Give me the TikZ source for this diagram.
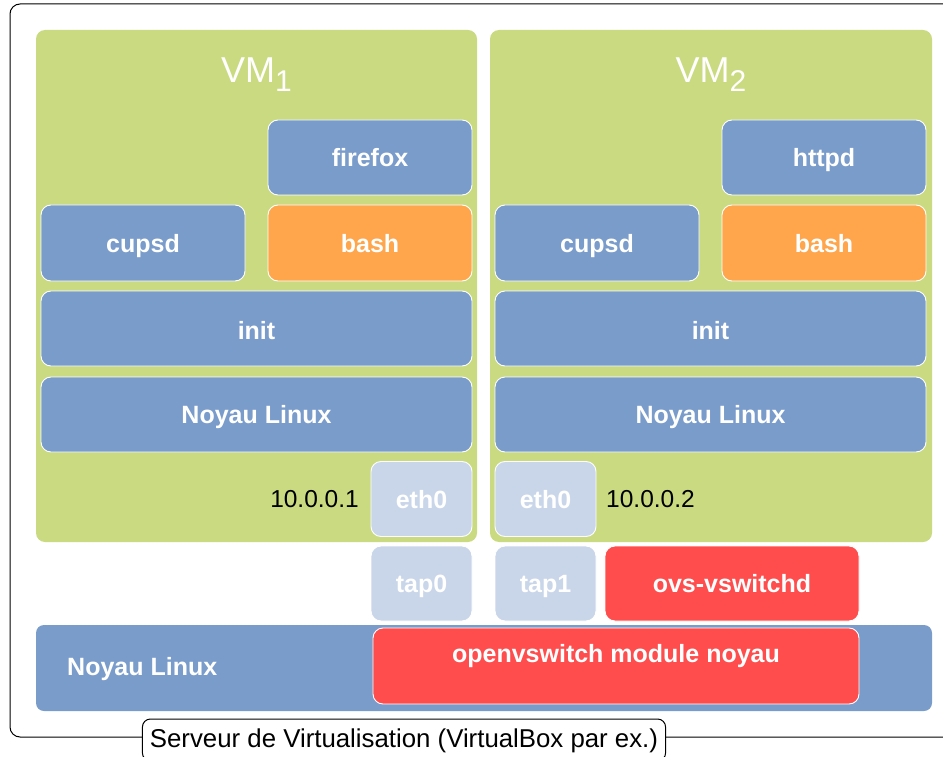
\documentclass[tikz,border=0pt]{standalone}
\usepackage{fontspec}
\setmainfont{Liberation Sans}
\definecolor{vmgreen}{RGB}{202,218,128}
\definecolor{procblue}{RGB}{122,156,203}
\definecolor{shellorange}{RGB}{255,166,77}
\definecolor{nicblue}{RGB}{201,214,233}
\definecolor{ovsred}{RGB}{255,77,77}
\begin{document}
\begin{tikzpicture}[x=1pt,y=-1pt,
  box/.style={rectangle, rounded corners=10pt, draw=white, line width=0.9pt,
    text=white, inner sep=0pt, text height=20pt, text depth=2pt,
    font=\fontsize{25}{25}\selectfont\bfseries},
  proc/.style={box, fill=procblue},
  shell/.style={box, fill=shellorange},
  nic/.style={box, fill=nicblue, minimum width=101pt, minimum height=75pt},
  ovs/.style={box, fill=ovsred},
  vm/.style={rectangle, rounded corners=9pt, fill=vmgreen, inner sep=0pt},
  vmtitle/.style={anchor=base, text=white, inner sep=0pt,
    font=\fontsize{36}{36}\selectfont},
  ip/.style={inner sep=0pt, font=\fontsize{24.5}{24.5}\selectfont},
]
\useasboundingbox (0,0) rectangle (943,757);

% host frame
\draw[line width=1pt, rounded corners=10pt] (10,4) rectangle (960,737);

% virtual machines
\node[vm, minimum width=441pt, minimum height=512pt] (vm1) at (256.5,286) {};
\node[vm, minimum width=442pt, minimum height=512pt] (vm2) at (711,286) {};
\node[vmtitle] (t1) at (256.5,83) {VM\raisebox{-9pt}{\fontsize{30}{30}\selectfont 1}};
\node[vmtitle] (t2) at (711,83) {VM\raisebox{-9pt}{\fontsize{30}{30}\selectfont 2}};

% VM 1 processes
\node[proc, minimum width=204pt, minimum height=75pt] (firefox) at (370,157.5) {firefox};
\node[shell, minimum width=204pt, minimum height=76pt] (bash1) at (370,243) {bash};
\node[proc, minimum width=204pt, minimum height=76pt] (cupsd1) at (143,243) {cupsd};
\node[proc, text height=23pt, minimum width=431pt, minimum height=75pt] (init1) at (256.5,328.5) {init};
\node[proc, minimum width=431pt, minimum height=75pt] (kern1) at (256.5,414.5) {Noyau Linux};
\node[nic] (eth1) at (421.5,499) {eth0};
\node[ip, anchor=base east] (ip1) at (359,507) {10.0.0.1};

% VM 2 processes
\node[proc, minimum width=204pt, minimum height=75pt] (httpd) at (824,157.5) {httpd};
\node[shell, minimum width=204pt, minimum height=76pt] (bash2) at (824,243) {bash};
\node[proc, minimum width=204pt, minimum height=76pt] (cupsd2) at (597,243) {cupsd};
\node[proc, text height=23pt, minimum width=431pt, minimum height=75pt] (init2) at (710.5,328.5) {init};
\node[proc, minimum width=431pt, minimum height=75pt] (kern2) at (710.5,414.5) {Noyau Linux};
\node[nic] (eth2) at (545.5,499) {eth0};
\node[ip, anchor=base west] (ip2) at (606,507) {10.0.0.2};

% host side
\node[nic] (tap0) at (421.5,583.5) {tap0};
\node[nic] (tap1) at (545.5,583.5) {tap1};
\node[ovs, minimum width=254pt, minimum height=75pt] (vswitchd) at (732,583.5) {ovs-vswitchd};
\node[proc, draw=none, rounded corners=8pt, minimum width=896pt, minimum height=86pt] (hostkern) at (484,668) {};
\node[anchor=base west, inner sep=0pt, text=white,
  font=\fontsize{25}{25}\selectfont\bfseries] (hostlbl) at (67,675) {Noyau Linux};
\node[ovs, text height=6pt, text depth=14pt, minimum width=486pt, minimum height=76pt] (ovsmod) at (616,666) {openvswitch module noyau};

% host frame caption
\node[draw=black, fill=white, line width=1pt, rounded corners=8pt,
  minimum height=42pt, inner xsep=7.5pt, inner ysep=0pt,
  text height=19pt, text depth=5pt,
  font=\fontsize{25.8}{25.8}\selectfont] (caption) at (404,740)
  {Serveur de Virtualisation (VirtualBox par ex.)};
\end{tikzpicture}
\end{document}
